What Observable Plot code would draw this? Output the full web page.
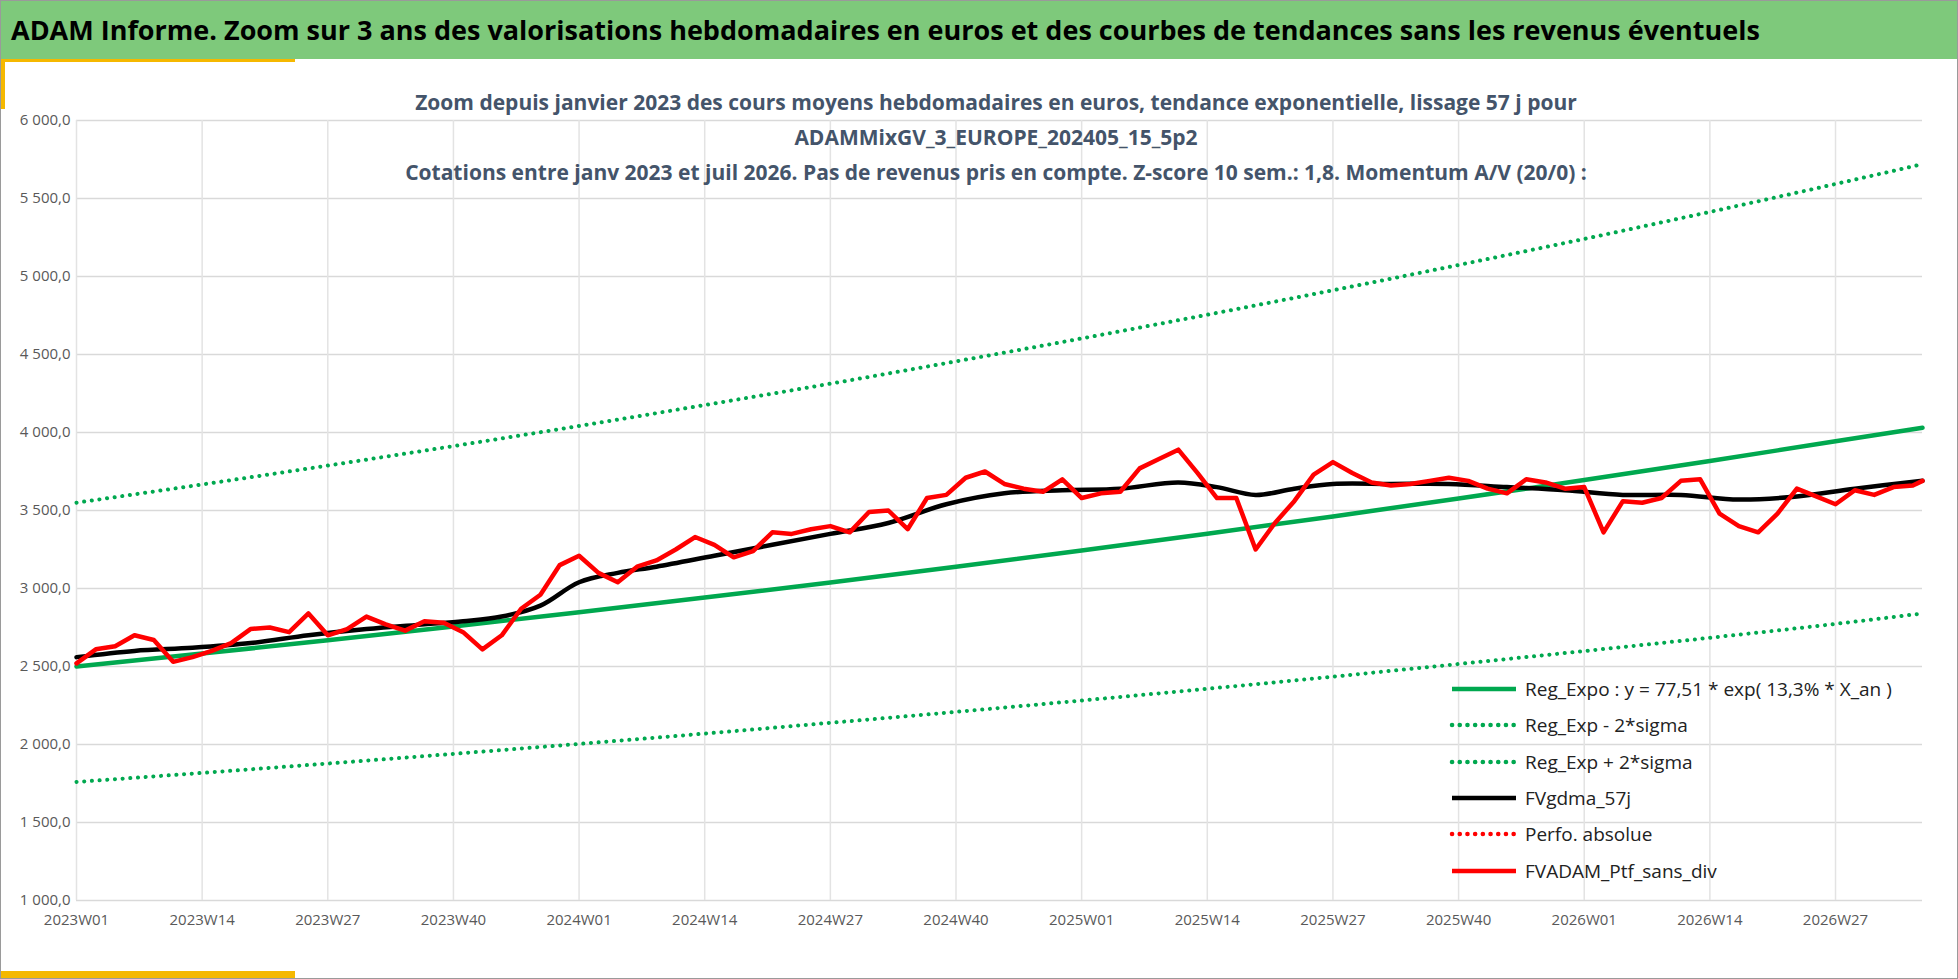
<!DOCTYPE html>
<html><head><meta charset="utf-8">
<script src="https://cdn.jsdelivr.net/npm/d3@7"></script>
<script src="https://cdn.jsdelivr.net/npm/@observablehq/plot@0.6"></script>
<style>
body{margin:0;width:1958px;height:979px;overflow:hidden;background:#fff;font-family:Calibri,"Liberation Sans Narrow","Open Sans",sans-serif}
#wrap{position:relative;width:1956px;height:977px;border:1px solid #9a9a9a}
#title{position:absolute;left:0;top:0;width:100%;height:58px;background:#7ec97b;font:bold 27px "Liberation Sans Narrow","Open Sans",sans-serif;line-height:58px;padding-left:10px;box-sizing:border-box;color:#000}
#sub{position:absolute;left:0;width:1990px;top:84px;text-align:center;font:bold 21px "Liberation Sans Narrow","Open Sans",sans-serif;color:#44546a;line-height:35px}
#chart{position:absolute;left:0;top:60px}
#legend{position:absolute;left:1448px;top:670px;font:19px "Liberation Sans Narrow","Open Sans",sans-serif;color:#222}
#legend div{height:36.3px;display:flex;align-items:center}
#legend svg{margin-right:6px}
.y1{position:absolute;background:#f5b800}
</style></head><body>
<div id="wrap">
<div id="title">ADAM Informe. Zoom sur 3 ans des valorisations hebdomadaires en euros et des courbes de tendances sans les revenus éventuels</div>
<div class="y1" style="left:0;top:58px;width:294px;height:3px"></div>
<div class="y1" style="left:0;top:58px;width:4px;height:50px"></div>
<div class="y1" style="left:0;top:970px;width:294px;height:7px"></div>
<div id="chart"></div>
<div id="sub">Zoom depuis janvier 2023 des cours moyens hebdomadaires en euros, tendance exponentielle, lissage 57 j pour<br>ADAMMixGV_3_EUROPE_202405_15_5p2<br>Cotations entre janv 2023 et juil 2026. Pas de revenus pris en compte. Z-score 10 sem.: 1,8. Momentum A/V (20/0) :</div>
<div id="legend"></div>
</div>
<script>
const tickWeeks = [0,13,26,39,52,65,78,91,104,117,130,143,156,169,182];
const tickLabels = ["2023W01","2023W14","2023W27","2023W40","2024W01","2024W14","2024W27","2024W40","2025W01","2025W14","2025W27","2025W40","2026W01","2026W14","2026W27"];
const yTicks = [1000,1500,2000,2500,3000,3500,4000,4500,5000,5500,6000];
const trendWeeks = [0,13,26,39,52,65,78,91,104,117,130,143,156,169,182,191];
const regExpo = [2500,2583,2668,2756,2848,2942,3039,3140,3244,3351,3462,3577,3695,3817,3944,4030];
const regUpper = [3550,3667,3788,3913,4042,4176,4313,4456,4603,4755,4912,5074,5241,5414,5593,5720];
const regLower = [1760,1818,1878,1940,2004,2070,2139,2209,2282,2357,2435,2516,2599,2684,2773,2840];
const maWeeks = [0,6,12,18,24,30,36,40,44,48,52,56,60,66,72,78,84,90,96,102,108,114,118,122,126,130,136,142,148,154,160,166,172,178,184,191];
const maValues = [2560,2600,2620,2650,2700,2740,2770,2790,2820,2890,3040,3100,3140,3210,3280,3350,3420,3540,3610,3630,3640,3680,3650,3600,3640,3670,3670,3670,3650,3630,3600,3600,3570,3590,3640,3690];
const ptfWeeks = [0,2,4,6,8,10,12,14,16,18,20,22,24,26,28,30,32,34,36,38,40,42,44,46,48,50,52,54,56,58,60,62,64,66,68,70,72,74,76,78,80,82,84,86,88,90,92,94,96,98,100,102,104,106,108,110,112,114,116,118,120,122,124,126,128,130,132,134,136,138,140,142,144,146,148,150,152,154,156,158,160,162,164,166,168,170,172,174,176,178,180,182,184,186,188,190,191];
const ptfValues = [2520,2610,2630,2700,2670,2530,2560,2600,2650,2740,2750,2720,2840,2700,2740,2820,2770,2730,2790,2780,2720,2610,2700,2870,2960,3150,3210,3100,3040,3140,3180,3250,3330,3280,3200,3240,3360,3350,3380,3400,3360,3490,3500,3380,3580,3600,3710,3750,3670,3640,3620,3700,3580,3610,3620,3770,3830,3890,3740,3580,3580,3250,3420,3560,3730,3810,3740,3680,3660,3670,3690,3710,3690,3640,3610,3700,3680,3640,3650,3360,3560,3550,3580,3690,3700,3480,3400,3360,3480,3640,3590,3540,3630,3600,3650,3660,3690,3750];

const zip = (xs, ys) => xs.map((x,i)=>({x, y: ys[i]}));
const dot = {stroke:"#00a84f", strokeWidth:4, strokeDasharray:"0.1 7.6", strokeLinecap:"round"};
const frFmt = v => d3.format(",.1f")(v).replace(/,/g," ").replace(".",",");

const chart = Plot.plot({
  width:1956, height:917,
  marginLeft:75, marginRight:35, marginTop:59, marginBottom:78,
  style:{fontFamily:'"Liberation Sans Narrow","Open Sans",sans-serif', fontSize:"15px", color:"#595959", background:"transparent"},
  x:{domain:[0,191], label:null},
  y:{domain:[1000,6000], label:null},
  marks:[
    Plot.ruleY(yTicks, {stroke:"#d9d9d9", strokeWidth:1.5}),
    Plot.ruleX(tickWeeks, {stroke:"#e3e3e3", strokeWidth:1.5}),
    Plot.axisX(tickWeeks, {tickFormat:(d)=>tickLabels[tickWeeks.indexOf(d)], tickSize:0, tickPadding:14, label:null}),
    Plot.axisY(yTicks, {tickFormat:frFmt, tickSize:0, tickPadding:6, label:null}),
    Plot.line(zip(trendWeeks, regUpper), {x:"x", y:"y", ...dot, curve:"monotone-x"}),
    Plot.line(zip(trendWeeks, regLower), {x:"x", y:"y", ...dot, curve:"monotone-x"}),
    Plot.line(zip(trendWeeks, regExpo), {x:"x", y:"y", stroke:"#00a84f", strokeWidth:4.5, curve:"monotone-x"}),
    Plot.line(zip(maWeeks, maValues), {x:"x", y:"y", stroke:"#000", strokeWidth:4.5, curve:"catmull-rom"}),
    Plot.line(zip(ptfWeeks, ptfValues), {x:"x", y:"y", stroke:"#ff0000", strokeWidth:4.5, strokeLinejoin:"round"})
  ]
});
document.getElementById("chart").appendChild(chart);

const legendItems = [
  ["Reg_Expo : y = 77,51 * exp( 13,3% *  X_an )", "#00a84f", false],
  ["Reg_Exp - 2*sigma", "#00a84f", true],
  ["Reg_Exp + 2*sigma", "#00a84f", true],
  ["FVgdma_57j", "#000", false],
  ["Perfo. absolue", "#ff0000", true],
  ["FVADAM_Ptf_sans_div", "#ff0000", false]
];
const lg = document.getElementById("legend");
for (const [t,c,d] of legendItems) {
  const row = document.createElement("div");
  row.innerHTML = `<svg width="70" height="10"><line x1="3" x2="67" y1="5" y2="5" stroke="${c}" stroke-width="4.5" ${d?'stroke-dasharray="0.1 7.6" stroke-linecap="round"':''}/></svg><span>${t}</span>`;
  lg.appendChild(row);
}
</script>
</body></html>
